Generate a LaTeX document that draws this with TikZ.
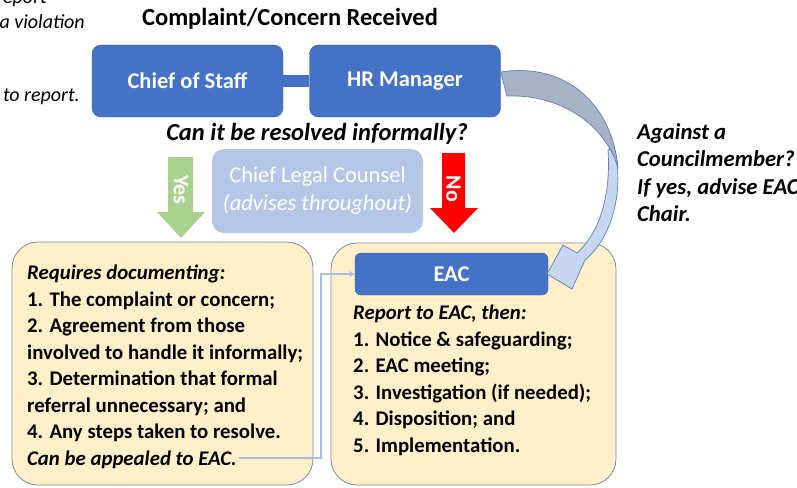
\documentclass[tikz,border=0pt]{standalone}
\usepackage{fontspec}
\setmainfont{Carlito}
\usetikzlibrary{calc,positioning,arrows.meta}
\definecolor{staffblue}{HTML}{4472C4}
\definecolor{counselblue}{HTML}{B4C7E7}
\definecolor{noteyellow}{HTML}{FFF0C9}
\definecolor{noteedge}{HTML}{7C8AA3}
\definecolor{yesgreen}{HTML}{A9D18E}
\definecolor{nored}{HTML}{FF0000}
\definecolor{backband}{HTML}{A8B2C6}
\definecolor{frontband}{HTML}{C8D6EF}
\definecolor{bandedge}{HTML}{5F7FB8}
\definecolor{appealblue}{HTML}{A9BDE2}

\begin{document}
\begin{tikzpicture}[x=1pt,y=-1pt,
		bluebox/.style={fill=staffblue,draw=staffblue!85!black,rounded corners=9pt,
			text=white,font=\bfseries\fontsize{22.5}{26}\selectfont},
		notebox/.style={fill=noteyellow,draw=noteedge,line width=0.8pt,rounded corners=26pt},
		notetext/.style={anchor=north west,inner sep=0pt,align=left,
			font=\bfseries\fontsize{20.8}{26.5}\selectfont},
		sidetext/.style={anchor=east,inner sep=0pt,font=\itshape\fontsize{20}{24}\selectfont},
		arrowword/.style={rotate=-90,text=white,font=\bfseries\fontsize{22}{24}\selectfont}]
	\useasboundingbox (0,0) rectangle (797,487);
	\clip (0,0) rectangle (797,487);
	% cut-off text on the left
	\node[sidetext] (rep) at (47,-1) {report};
	\node[sidetext] (viol) at (85,22) {a violation};
	\node[sidetext] (torep) at (80,97) {to report.};
	% top row
	\node[font=\bfseries\fontsize{24.5}{28}\selectfont] (title) at (290,19) {Complaint/Concern Received};
	\node[bluebox,minimum width=191pt,minimum height=72pt] (staff) at (187.5,81) {Chief of Staff};
	\node[bluebox,minimum width=191pt,minimum height=72pt] (hr) at (405,81) {HR Manager};
	\draw[staffblue,line width=12pt] (staff.east) -- (hr.west);
	\node[font=\bfseries\itshape\fontsize{24.5}{28}\selectfont] (ask) at (317,134) {Can it be resolved informally?};
	% yes / no arrows
	\fill[yesgreen] (168,157) -- (193,157) -- (193,212) -- (205,212) -- (181,238)
		-- (157,212) -- (168,212) -- cycle;
	\node[arrowword] (yes) at (181,190) {Yes};
	\fill[nored] (442,153) -- (465,153) -- (465,208) -- (478,208) -- (454,233)
		-- (430,208) -- (442,208) -- cycle;
	\node[arrowword] (no) at (453.5,189) {No};
	\node[fill=counselblue,rounded corners=12pt,minimum width=211pt,minimum height=84pt,
		text=white,align=center,font=\fontsize{22.5}{28}\selectfont] (counsel) at (317.5,191)
		{Chief Legal Counsel\\\itshape(advises throughout)};
	% lower boxes
	\node[notebox,minimum width=301pt,minimum height=243pt] (informal) at (162.5,363.5) {};
	\node[notebox,minimum width=285pt,minimum height=242pt] (formal) at (473.5,364) {};
	\node[notetext] (informaltext) at (27,265) {\itshape Requires documenting:\\
		1. The complaint or concern;\\
		2. Agreement from those\\
		involved to handle it informally;\\
		3. Determination that formal\\
		referral unnecessary; and\\
		4. Any steps taken to resolve.\\
		\itshape Can be appealed to EAC.};
	\node[bluebox,rounded corners=6pt,minimum width=193pt,minimum height=42pt] (eac) at (451.5,274) {EAC};
	\node[notetext] (formaltext) at (353,305) {\itshape Report to EAC, then:\\
		1. Notice \& safeguarding;\\
		2. EAC meeting;\\
		3. Investigation (if needed);\\
		4. Disposition; and\\
		5. Implementation.};
	\coordinate (appeal) at (239,458);
	\draw[appealblue,line width=1.6pt,-{Stealth[length=6pt,width=6pt]}] (appeal) -- (321,458) |- (eac.west);
	% curved arrow round to the EAC
	\filldraw[fill=frontband,draw=bandedge,line width=0.7pt]
		(614,146) .. controls (625,190) and (612,238) .. (585,260) -- (572,289) -- (547,274)
		-- (563,245) -- (577,253) .. controls (600,232) and (611,195) .. (608,150) -- cycle;
	\filldraw[fill=backband,draw=bandedge,line width=0.7pt]
		(hr.east |- 0,72) .. controls (566,62) and (612,104) .. (618,168)
		.. controls (606,126) and (562,94) .. (507,96) -- cycle;
	\node[anchor=north west,inner sep=0pt,align=left,
		font=\bfseries\itshape\fontsize{22.7}{27.6}\selectfont] (council) at (637,123)
		{Against a\\Councilmember?\\If yes, advise EAC\\Chair.};
\end{tikzpicture}
\end{document}
